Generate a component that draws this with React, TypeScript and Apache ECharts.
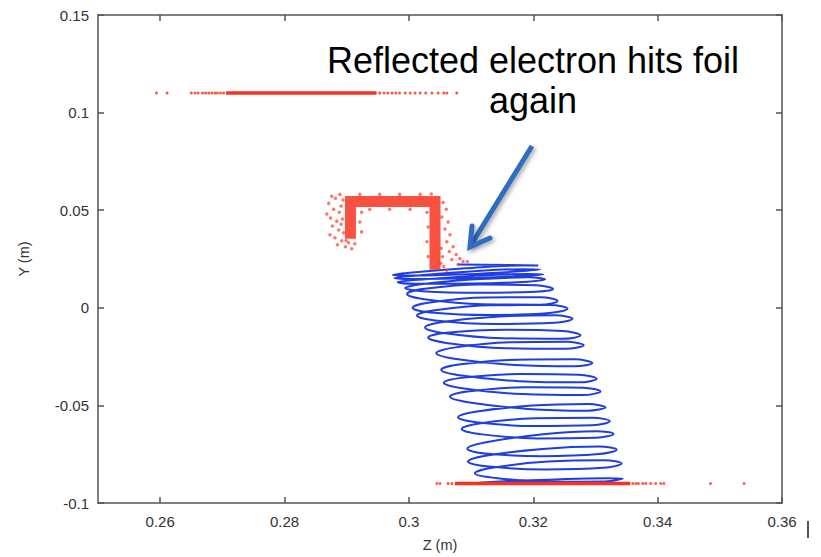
import React, { useEffect, useRef } from 'react';
import * as echarts from 'echarts';

// ---------- axis ticks ----------
const xTickValues = [0.26, 0.28, 0.3, 0.32, 0.34, 0.36];

// ---------- red hits: upper band at Y = 0.11 ----------
const topBandY = 0.11;
const topBandDenseZ = [0.2706, 0.2948];
const topBandPointsZ = [
  0.2594, 0.2611, 0.265, 0.2656, 0.2661, 0.2668, 0.2673, 0.2678, 0.2683, 0.2688,
  0.2692, 0.2697, 0.2702, 0.2953, 0.296, 0.2966, 0.2973, 0.2979, 0.2985, 0.2994,
  0.3002, 0.301, 0.3018, 0.3027, 0.3037, 0.3047, 0.3056, 0.3061, 0.3077,
];

// ---------- red hits: foil frame (dense core path) ----------
const frameCore = [
  [0.2906, 0.0354],
  [0.2906, 0.0545],
  [0.3042, 0.0545],
  [0.3042, 0.0195],
];
// scattered hits around the frame
const frameSpeckles = [
  [0.2876, 0.0571], [0.2882, 0.0561], [0.2871, 0.0535], [0.2879, 0.0505], [0.2868, 0.048],
  [0.2874, 0.046], [0.2884, 0.0444], [0.2877, 0.0419], [0.2887, 0.0399], [0.2873, 0.0374],
  [0.2881, 0.0359], [0.2892, 0.0343], [0.2885, 0.0323], [0.2898, 0.0313], [0.2908, 0.0303],
  [0.2903, 0.0333], [0.2913, 0.0328], [0.2889, 0.0581], [0.2894, 0.0552], [0.2891, 0.0522],
  [0.2888, 0.049], [0.2893, 0.0455], [0.2891, 0.0428], [0.2895, 0.0385], [0.2899, 0.0345],
  [0.3055, 0.054], [0.306, 0.0505], [0.3053, 0.0465], [0.3063, 0.0439], [0.3058, 0.0404],
  [0.3066, 0.0374], [0.3061, 0.0338], [0.3071, 0.0313], [0.3065, 0.0288], [0.3076, 0.0273],
  [0.3069, 0.0247], [0.3082, 0.0253], [0.3079, 0.0222], [0.3087, 0.0237], [0.3094, 0.0237],
  [0.3056, 0.0212], [0.3061, 0.0192], [0.3052, 0.0305], [0.3054, 0.0262], [0.3051, 0.0228],
  [0.2924, 0.049], [0.2921, 0.0439], [0.2924, 0.0389], [0.3029, 0.049], [0.3031, 0.0414],
  [0.3029, 0.0338], [0.3031, 0.0263], [0.2937, 0.0505], [0.2969, 0.0505], [0.3002, 0.0505],
  [0.2921, 0.0581], [0.2953, 0.0581], [0.2985, 0.0581], [0.3018, 0.0581], [0.3036, 0.0583],
];

// ---------- red hits: lower band at Y = -0.09 ----------
const bottomBandY = -0.09;
const bottomBandDenseZ = [0.3074, 0.3356];
const bottomBandPointsZ = [
  0.3045, 0.305, 0.3063, 0.3069, 0.336, 0.3365, 0.3369, 0.3376, 0.3381, 0.3389,
  0.3397, 0.3405, 0.341, 0.3485, 0.3539,
];

// ---------- blue trajectory (Z, Y) ----------
const trajectory = [
  [0.3079, 0.0222], [0.3208, 0.0217],
  [0.3181, 0.0217], [0.3091, 0.0202], [0.3001, 0.0179], [0.2974, 0.0167],
  [0.3002, 0.0165], [0.3093, 0.0172], [0.3183, 0.0188], [0.3211, 0.0197],
  [0.3184, 0.0198], [0.3094, 0.0185], [0.3004, 0.0163], [0.2977, 0.0152],
  [0.3005, 0.0148], [0.3097, 0.0152], [0.3188, 0.0164], [0.3216, 0.0172],
  [0.3189, 0.0173], [0.3099, 0.0162], [0.3009, 0.0142], [0.2982, 0.0131],
  [0.301, 0.0123], [0.3101, 0.0124], [0.3191, 0.0134], [0.3219, 0.0146],
  [0.3193, 0.0156], [0.3107, 0.0146], [0.302, 0.0121], [0.2994, 0.0101],
  [0.3022, 0.0085], [0.3113, 0.0077], [0.3204, 0.0082], [0.3232, 0.0096],
  [0.3205, 0.0116], [0.3115, 0.0119], [0.3025, 0.0097], [0.2997, 0.0071],
  [0.3025, 0.0044], [0.3118, 0.0018], [0.3211, 0.0016], [0.3239, 0.0035],
  [0.3212, 0.0054], [0.3123, 0.0053], [0.3033, 0.0027], [0.3006, 0.0],
  [0.3035, -0.0024], [0.3131, -0.0037], [0.3226, -0.0027], [0.3255, -0.0005],
  [0.3227, 0.0014], [0.3134, 0.0013], [0.3041, -0.0013], [0.3013, -0.004],
  [0.3042, -0.0065], [0.3138, -0.0083], [0.3234, -0.0077], [0.3263, -0.0056],
  [0.3235, -0.0038], [0.3145, -0.0044], [0.3054, -0.0073], [0.3026, -0.0101],
  [0.3055, -0.0129], [0.3151, -0.0156], [0.3247, -0.0159], [0.3276, -0.0141],
  [0.3247, -0.0119], [0.3154, -0.0112], [0.306, -0.0128], [0.3031, -0.0152],
  [0.306, -0.018], [0.3156, -0.0207], [0.3252, -0.021], [0.3281, -0.0192],
  [0.3253, -0.0174], [0.3163, -0.0177], [0.3072, -0.0204], [0.3044, -0.0232],
  [0.3073, -0.0261], [0.317, -0.0293], [0.3266, -0.03], [0.3295, -0.0283],
  [0.3267, -0.0264], [0.3174, -0.0266], [0.308, -0.0291], [0.3052, -0.0318],
  [0.3081, -0.0346], [0.3177, -0.0376], [0.3273, -0.0382], [0.3302, -0.0364],
  [0.3273, -0.0343], [0.3179, -0.0339], [0.3085, -0.0359], [0.3056, -0.0384],
  [0.3086, -0.0412], [0.3182, -0.0442], [0.3279, -0.0447], [0.3308, -0.0429],
  [0.328, -0.0409], [0.3187, -0.0407], [0.3094, -0.0429], [0.3066, -0.0455],
  [0.3095, -0.0484], [0.3191, -0.0518], [0.3287, -0.0527], [0.3316, -0.051],
  [0.3288, -0.0493], [0.3198, -0.0501], [0.3107, -0.0532], [0.3079, -0.0561],
  [0.3108, -0.0586], [0.3201, -0.0606], [0.3295, -0.0602], [0.3323, -0.0581],
  [0.3295, -0.0563], [0.3204, -0.0566], [0.3113, -0.0593], [0.3085, -0.0621],
  [0.3114, -0.0647], [0.3207, -0.0669], [0.3301, -0.0666], [0.3329, -0.0646],
  [0.3302, -0.0632], [0.3212, -0.0649], [0.3122, -0.069], [0.3094, -0.0722],
  [0.3122, -0.0746], [0.3214, -0.076], [0.3306, -0.0749], [0.3334, -0.0727],
  [0.3306, -0.0711], [0.3215, -0.0723], [0.3123, -0.0758], [0.3095, -0.0788],
  [0.3124, -0.0812], [0.3219, -0.0828], [0.3313, -0.082], [0.3342, -0.0798],
  [0.3314, -0.0781], [0.3224, -0.0788], [0.3134, -0.0819], [0.3106, -0.0848],
  [0.3134, -0.087], [0.3225, -0.0891], [0.3316, -0.089], [0.3344, -0.0874],
  [0.3316, -0.0873], [0.3224, -0.0881], [0.3131, -0.0892], [0.3103, -0.0899],
];

const annotationLines = ['Reflected electron hits foil', 'again'];

const RED = '#f8321e';
const BLUE = '#1f3de0';
const AXIS = '#555555';
const FONT = '"Liberation Sans", Arial, Helvetica, sans-serif';

export default function App() {
  const ref = useRef<HTMLDivElement>(null);

  useEffect(() => {
    if (!ref.current) return;
    const chart = echarts.init(ref.current, undefined, { renderer: 'svg' });

    const axisLine = { show: true, onZero: false, lineStyle: { color: AXIS, width: 1.5 } };
    const tickStyle = { color: AXIS, width: 1.5 };
    const labelStyle = { fontSize: 15, color: '#333', fontFamily: FONT };

    const option: any = {
      animation: false,
      backgroundColor: '#ffffff',
      grid: { left: 98, top: 15, right: 39, bottom: 47, containLabel: false },
      xAxis: [
        {
          type: 'value', min: 0.25, max: 0.36, position: 'bottom',
          name: 'Z (m)', nameLocation: 'middle', nameGap: 34,
          nameTextStyle: { ...labelStyle, fontSize: 14.5 },
          axisLine,
          axisTick: { show: true, inside: true, length: 6, customValues: xTickValues, lineStyle: tickStyle },
          axisLabel: { show: true, customValues: xTickValues, margin: 11, ...labelStyle },
          splitLine: { show: false },
        },
        {
          type: 'value', min: 0.25, max: 0.36, position: 'top',
          axisLine,
          axisTick: { show: true, inside: true, length: 6, customValues: xTickValues, lineStyle: tickStyle },
          axisLabel: { show: false },
          splitLine: { show: false },
        },
      ],
      yAxis: [
        {
          type: 'value', min: -0.1, max: 0.15, interval: 0.05, position: 'left',
          name: 'Y (m)', nameLocation: 'middle', nameGap: 67,
          nameTextStyle: { ...labelStyle, fontSize: 14.5 },
          axisLine,
          axisTick: { show: true, inside: true, length: 6, lineStyle: tickStyle },
          axisLabel: { show: true, margin: 9, ...labelStyle },
          splitLine: { show: false },
        },
        {
          type: 'value', min: -0.1, max: 0.15, interval: 0.05, position: 'right',
          axisLine,
          axisTick: { show: true, inside: true, length: 6, lineStyle: tickStyle },
          axisLabel: { show: false },
          splitLine: { show: false },
        },
      ],
      series: [
        {
          type: 'line', name: 'trajectory', xAxisIndex: 0, yAxisIndex: 0,
          data: trajectory, smooth: 0.4, showSymbol: false, symbol: 'none',
          lineStyle: { color: BLUE, width: 2 }, z: 3,
        },
        {
          type: 'line', name: 'top band', data: topBandDenseZ.map((z) => [z, topBandY]),
          symbol: 'none', lineStyle: { color: RED, width: 3.5, cap: 'butt' }, z: 4,
        },
        {
          type: 'scatter', name: 'top hits', data: topBandPointsZ.map((z) => [z, topBandY]),
          symbolSize: 3, itemStyle: { color: RED, opacity: 0.8 }, z: 4,
        },
        {
          type: 'line', name: 'frame', data: frameCore, symbol: 'none',
          lineStyle: { color: RED, width: 11, opacity: 0.85, join: 'miter', cap: 'butt' }, z: 4,
        },
        {
          type: 'scatter', name: 'frame hits', data: frameSpeckles,
          symbolSize: 3.5, itemStyle: { color: RED, opacity: 0.65 }, z: 4,
        },
        {
          type: 'line', name: 'bottom band', data: bottomBandDenseZ.map((z) => [z, bottomBandY]),
          symbol: 'none', lineStyle: { color: RED, width: 3.5, cap: 'butt' }, z: 4,
        },
        {
          type: 'scatter', name: 'bottom hits', data: bottomBandPointsZ.map((z) => [z, bottomBandY]),
          symbolSize: 3, itemStyle: { color: RED, opacity: 0.8 }, z: 4,
        },
      ],
      graphic: [
        {
          type: 'text', x: 533, y: 60.5, z: 10,
          style: {
            text: annotationLines[0], x: 0, y: 0, textAlign: 'center', textVerticalAlign: 'middle',
            fontSize: 36, fontFamily: FONT, fill: '#000',
          },
        },
        {
          type: 'text', x: 533, y: 100.5, z: 10,
          style: {
            text: annotationLines[1], x: 0, y: 0, textAlign: 'center', textVerticalAlign: 'middle',
            fontSize: 36, fontFamily: FONT, fill: '#000',
          },
        },
        {
          type: 'line', z: 10,
          shape: { x1: 532, y1: 146, x2: 471, y2: 245 },
          style: {
            stroke: '#2f6dc0', lineWidth: 5, lineCap: 'butt',
            shadowColor: 'rgba(0,0,0,0.35)', shadowBlur: 4, shadowOffsetX: 2, shadowOffsetY: 2,
          },
        },
        {
          type: 'polyline', z: 10,
          shape: { points: [[472, 226], [470, 247], [490, 238]] },
          style: {
            stroke: '#2f6dc0', lineWidth: 5, lineJoin: 'miter', lineCap: 'round', fill: 'none',
            shadowColor: 'rgba(0,0,0,0.35)', shadowBlur: 4, shadowOffsetX: 2, shadowOffsetY: 2,
          },
        },
        {
          type: 'line', z: 10,
          shape: { x1: 808, y1: 521, x2: 808, y2: 538 },
          style: { stroke: '#555', lineWidth: 2 },
        },
      ],
    };

    chart.setOption(option);
    return () => chart.dispose();
  }, []);

  return (
    <div
      ref={ref}
      style={{ position: 'fixed', left: 0, top: 0, width: 821, height: 557, background: '#fff' }}
    />
  );
}
